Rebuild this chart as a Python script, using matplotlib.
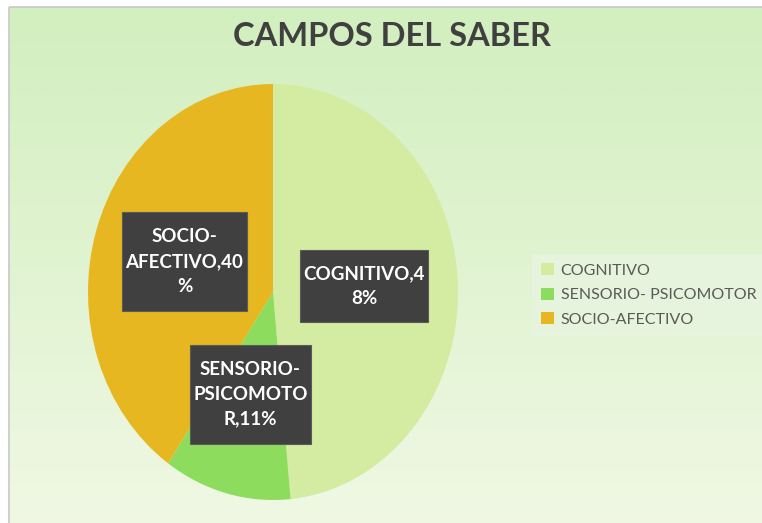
import numpy as np
import matplotlib
matplotlib.use("Agg")
import matplotlib.pyplot as plt
from matplotlib.patches import Rectangle, Patch

categories = ["COGNITIVO", "SENSORIO- PSICOMOTOR", "SOCIO-AFECTIVO"]
values = [48, 11, 40]
label_texts = ["COGNITIVO,4\n8%", "SENSORIO-\nPSICOMOTO\nR,11%", "SOCIO-\nAFECTIVO,40\n%"]
colors = ["#d4eca2", "#8edc5e", "#e6b720"]
title = "CAMPOS DEL SABER"

W, H = 762, 523
fig = plt.figure(figsize=(W / 100, H / 100), dpi=100)
fig.patch.set_facecolor("white")

# background gradient panel
bg = fig.add_axes([0, 0, 1, 1])
bg.set_xlim(0, W); bg.set_ylim(H, 0); bg.axis("off")
top = np.array([0xd2, 0xef, 0xbf]) / 255
bot = np.array([0xf0, 0xf8, 0xe4]) / 255
t = np.linspace(0, 1, 256)[:, None]
grad = (top[None, :] * (1 - t) + bot[None, :] * t)[:, None, :]
bg.imshow(grad, extent=[9, W + 5, H + 5, 7], aspect="auto", zorder=0)
bg.add_patch(Rectangle((9, 7), W, H, fill=False, edgecolor="#c8c8c8", lw=1.2, zorder=1))
bg.set_xlim(0, W); bg.set_ylim(H, 0)

fig.text(392 / W, 1 - 37 / H, title, ha="center", va="center", fontsize=23.5,
         fontweight="bold", color="#404040", family=["Lato", "DejaVu Sans"])

# pie axes (elliptical pie)
cx, cy, rx, ry = 273, 292, 185, 208
ax = fig.add_axes([(cx - rx) / W, 1 - (cy + ry) / H, 2 * rx / W, 2 * ry / H])
ax.pie(values, colors=colors, startangle=90, counterclock=False,
       wedgeprops=dict(linewidth=0))
ax.set_aspect("auto")
ax.set_xlim(-1, 1); ax.set_ylim(-1, 1)
ax.axis("off")

# label boxes (centers in pixels, sizes in pixels)
boxes = [(364, 286, 128, 72), (250.5, 394.5, 121, 99), (184.5, 261.5, 125, 99)]
for (bx, by, bw, bh), txt in zip(boxes, label_texts):
    x0 = (bx - bw / 2 - (cx - rx)) / (2 * rx)
    y0 = 1 - (by + bh / 2 - (cy - ry)) / (2 * ry)
    ax.add_patch(Rectangle((x0, y0), bw / (2 * rx), bh / (2 * ry), transform=ax.transAxes,
                           facecolor="#404040", edgecolor="#5a5a5a", lw=0.8, zorder=5, clip_on=False))
    ax.text((bx - (cx - rx)) / (2 * rx), 1 - (by - (cy - ry)) / (2 * ry), txt,
            transform=ax.transAxes, ha="center", va="center", color="white",
            fontsize=13.5, fontweight="bold", family=["Lato", "DejaVu Sans"],
            linespacing=1.55, zorder=6)

# legend
handles = [Patch(facecolor=c, edgecolor="none") for c in colors]
leg = fig.legend(handles, categories, loc="center left",
                 bbox_to_anchor=(524 / W, 1 - 295 / H), frameon=True,
                 prop=dict(family=["Lato", "DejaVu Sans"], size=11.5),
                 labelcolor="#595959", handlelength=0.8, handleheight=0.8,
                 handletextpad=0.45, labelspacing=0.62, borderpad=0.55,
                 fancybox=False)
leg.get_frame().set_facecolor("#e8f5df")
leg.get_frame().set_edgecolor("none")
leg.get_frame().set_alpha(0.9)

fig.savefig("out.png", dpi=100, facecolor="white")
